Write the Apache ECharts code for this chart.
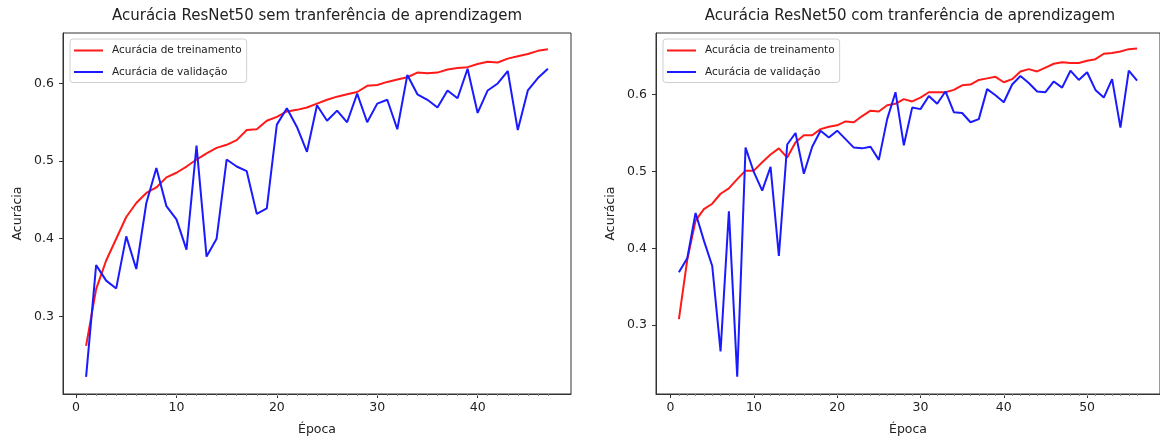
<!DOCTYPE html>
<html>
<head>
<meta charset="utf-8">
<script src="https://cdn.jsdelivr.net/npm/echarts@6/dist/echarts.min.js"></script>
<style>html,body{margin:0;padding:0;background:#fff}#c{width:1160px;height:441px}</style>
</head>
<body>
<div id="c"></div>
<script>
// ---- data ----
const titleLeft = 'Acurácia ResNet50 sem tranferência de aprendizagem';
const titleRight = 'Acurácia ResNet50 com tranferência de aprendizagem';
const nameTrain = 'Acurácia de treinamento';
const nameVal = 'Acurácia de validação';
const xName = 'Época';
const yName = 'Acurácia';

const trainNoTL = [0.262,0.335,0.372,0.400,0.428,0.446,0.459,0.466,0.479,0.485,
  0.493,0.502,0.510,0.517,0.521,0.527,0.540,0.541,0.552,0.557,
  0.564,0.566,0.569,0.574,0.579,0.583,0.586,0.589,0.597,0.598,
  0.602,0.605,0.608,0.614,0.613,0.614,0.618,0.620,0.621,0.625,
  0.628,0.627,0.632,0.635,0.638,0.642,0.644];
const valNoTL = [0.222,0.366,0.346,0.336,0.403,0.361,0.446,0.491,0.442,0.425,
  0.386,0.520,0.377,0.400,0.502,0.493,0.487,0.432,0.439,0.547,
  0.568,0.544,0.512,0.572,0.552,0.565,0.550,0.587,0.550,0.574,
  0.579,0.541,0.611,0.586,0.579,0.569,0.591,0.581,0.619,0.562,
  0.591,0.600,0.616,0.540,0.591,0.607,0.619];
const trainTL = [0.308,0.385,0.436,0.451,0.458,0.471,0.478,0.490,0.501,0.501,
  0.512,0.522,0.530,0.518,0.538,0.547,0.547,0.555,0.558,0.560,
  0.565,0.564,0.572,0.579,0.578,0.586,0.588,0.594,0.591,0.596,
  0.603,0.603,0.603,0.606,0.612,0.613,0.619,0.621,0.623,0.616,
  0.620,0.630,0.633,0.630,0.635,0.640,0.642,0.641,0.641,0.644,
  0.646,0.653,0.654,0.656,0.659,0.660];
const valTL = [0.369,0.387,0.446,0.410,0.377,0.266,0.448,0.233,0.531,0.499,
  0.475,0.506,0.390,0.535,0.550,0.497,0.532,0.553,0.544,0.553,
  0.542,0.531,0.530,0.532,0.515,0.568,0.603,0.534,0.583,0.581,
  0.598,0.588,0.604,0.577,0.576,0.564,0.568,0.607,0.599,0.590,
  0.613,0.624,0.615,0.604,0.603,0.617,0.609,0.631,0.619,0.629,
  0.606,0.596,0.620,0.557,0.631,0.618];

const xTicksLeft = [0,10,20,30,40];
const xTicksRight = [0,10,20,30,40,50];
const yTicks = [0.3,0.4,0.5,0.6];

// ---- build ----
const FONT = 'DejaVu Sans';
const TXT = '#222';
const pairs = arr => arr.map((v,i)=>[i+1, v]);
const epochs = arr => arr.map((v,i)=>i+1);

function grid(left){ return {left:left, top:33, width:508, height:363, show:true, borderColor:'#333', borderWidth:1, backgroundColor:'transparent'}; }

function xMain(gi, min, max, ticks){
  return {type:'value', gridIndex:gi, min:min, max:max, name:xName, nameLocation:'middle', nameGap:29,
    nameTextStyle:{fontFamily:FONT, fontSize:12.5, color:TXT},
    axisLine:{show:true, onZero:false, lineStyle:{color:'#333', width:1}},
    axisTick:{show:true, customValues:ticks, length:4, lineStyle:{color:'#333'}},
    axisLabel:{customValues:ticks, margin:7, fontFamily:FONT, fontSize:12.5, color:TXT, formatter:v=>String(v)},
    splitLine:{show:false}};
}
function xMinor(gi, min, max, vals){
  return {type:'value', gridIndex:gi, min:min, max:max, position:'bottom',
    axisLine:{show:false}, axisLabel:{show:false}, splitLine:{show:false},
    axisTick:{show:true, customValues:vals, length:2, lineStyle:{color:'#888'}}};
}
function yMain(gi, min, max){
  return {type:'value', gridIndex:gi, min:min, max:max, name:yName, nameLocation:'middle', nameGap:39,
    nameTextStyle:{fontFamily:FONT, fontSize:12.5, color:TXT},
    axisLine:{show:true, onZero:false, lineStyle:{color:'#333', width:1}},
    axisTick:{show:true, customValues:yTicks, length:4, lineStyle:{color:'#333'}},
    axisLabel:{customValues:yTicks, margin:9, fontFamily:FONT, fontSize:12.5, color:TXT, formatter:v=>v.toFixed(1)},
    splitLine:{show:false}};
}
function line(name, data, xi, yi, color){
  return {type:'line', name:name, data:data, xAxisIndex:xi, yAxisIndex:yi, symbol:'none', showSymbol:false,
    lineStyle:{color:color, width:2}, itemStyle:{color:color}, animation:false, z:3};
}
function legend(left){
  return {orient:'vertical', left:left, top:39, data:[nameTrain, nameVal], icon:'rect', itemWidth:29, itemHeight:2, itemGap:10.5,
    padding:[6,5,5,4], borderColor:'#d0d0d0', borderWidth:1, borderRadius:3, backgroundColor:'rgba(255,255,255,0.9)',
    textStyle:{fontFamily:FONT, fontSize:10.5, color:TXT, padding:[0,0,0,4]}, selectedMode:false};
}

const chart = echarts.init(document.getElementById('c'), null, {renderer:'canvas'});
chart.setOption({
  animation:false,
  backgroundColor:'#fff',
  title:[
    {text:titleLeft, left:317, top:9, textAlign:'center', padding:0, textStyle:{fontFamily:FONT, fontSize:15, fontWeight:'normal', color:TXT}},
    {text:titleRight, left:910, top:9, textAlign:'center', padding:0, textStyle:{fontFamily:FONT, fontSize:15, fontWeight:'normal', color:TXT}}
  ],
  legend:[legend(70), legend(663)],
  grid:[grid(63), grid(656)],
  xAxis:[
    xMain(0, -1.3, 49.3, xTicksLeft),
    xMain(1, -1.75, 58.75, xTicksRight),
    xMinor(0, -1.3, 49.3, epochs(trainNoTL)),
    xMinor(1, -1.75, 58.75, epochs(trainTL))
  ],
  yAxis:[yMain(0, 0.200, 0.665), yMain(1, 0.2106, 0.680)],
  series:[
    line(nameTrain, pairs(trainNoTL), 0, 0, '#ff1a1a'),
    line(nameVal, pairs(valNoTL), 0, 0, '#1a1aff'),
    line(nameTrain, pairs(trainTL), 1, 1, '#ff1a1a'),
    line(nameVal, pairs(valTL), 1, 1, '#1a1aff')
  ]
});
</script>
</body>
</html>
